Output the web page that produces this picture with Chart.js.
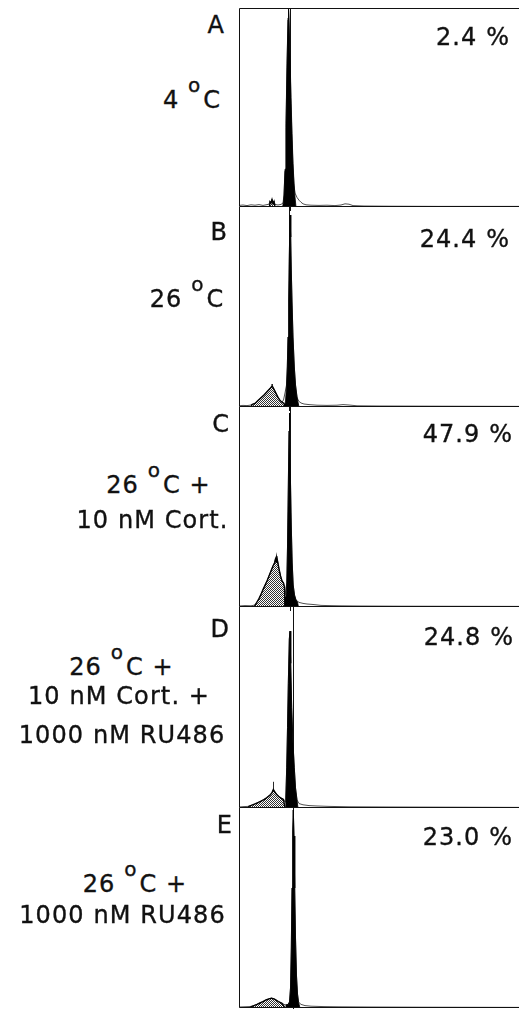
<!DOCTYPE html>
<html>
<head>
<meta charset="utf-8">
<script src="https://cdn.jsdelivr.net/npm/chart.js@4.4.1/dist/chart.umd.min.js"></script>
<style>
  body { margin: 0; background: #fff; }
  #figure { position: relative; width: 519px; height: 1009px; overflow: hidden; font-family: "DejaVu Sans", sans-serif; color: #111; }
  #figure canvas { position: absolute; left: 239px; }
  .label { position: absolute; white-space: pre; font-size: 24px; line-height: 24px; letter-spacing: 1.1px; -webkit-text-stroke: 0.35px #111; }
  .label .deg { font-size: 20px; line-height: 0; position: relative; top: -16px; letter-spacing: 3px; }
</style>
</head>
<body>
<div id="figure"></div>
<script>
const channelMax = 280;
const countMax = 100;

const panelLetters = ["A", "B", "C", "D", "E"];
const percentApoptotic = ["2.4 %", "24.4 %", "47.9 %", "24.8 %", "23.0 %"];
const conditions = [
  ["4 oC"],
  ["26 oC"],
  ["26 oC +", "10 nM Cort."],
  ["26 oC +", "10 nM Cort. +", "1000 nM RU486"],
  ["26 oC +", "1000 nM RU486"],
];
const g1Markers = [51.5, 50.5, 51.5, 54.5, 54.5];

// [channel, relative count]
const histA = [[0, 0.8], [4, 1.0], [8, 0.7], [12, 1.1], [16, 0.9], [20, 1.2], [24, 0.8], [27, 1.1], [30, 1.4], [31, 2.8], [32, 2.2], [33, 3.9], [34, 2.0], [35, 3.0], [36, 1.3], [39, 1.0], [42, 1.3], [44, 2], [45, 6], [46, 18], [47, 40], [48, 70], [49, 94], [49.5, 100], [50, 93], [51, 74], [52, 52], [53, 34], [54, 20], [55, 11], [56, 7], [58, 4.8], [60, 3.4], [62, 2.4], [64, 1.6], [67, 1.1], [72, 0.9], [80, 0.8], [88, 0.9], [96, 0.7], [102, 1.0], [106, 1.6], [110, 1.4], [114, 0.7], [125, 0.5], [150, 0.4], [200, 0.3], [280, 0.3]];
const apoA = [[30.5, 0], [31, 2.6], [32, 2.0], [33, 3.7], [34, 1.8], [35, 2.8], [36, 0]];
const g1A = [[43.5, 0], [44.5, 2.5], [45, 6], [46, 19], [47, 42], [48, 72], [49, 95], [49.5, 100], [50, 94], [51, 76], [52, 55], [53, 37], [54, 22], [55, 12], [56, 5], [57, 0]];

const histB = [[0, 0.6], [4, 0.8], [8, 0.7], [11, 0.9], [13, 1.2], [16, 1.8], [19, 3.2], [22, 4.6], [25, 6.0], [28, 7.6], [31, 9.2], [32.5, 10.2], [33, 11.5], [33.5, 10.4], [35, 8.8], [37, 6.8], [39, 4.8], [41, 3.3], [43, 2.4], [44.5, 3.5], [46, 7], [47.5, 11], [48.3, 20], [49, 35], [49.7, 53], [50.3, 75], [51, 96], [51.7, 85], [52.3, 68], [53, 53], [54, 35], [55.3, 20], [56.5, 11], [58, 5], [59.5, 3], [62, 2], [65, 1.5], [70, 1.2], [78, 0.9], [88, 0.8], [98, 0.9], [104, 1.2], [110, 1.0], [118, 0.6], [140, 0.5], [200, 0.4], [280, 0.3]];
const apoB = [[12, 0], [13, 1.2], [16, 1.8], [19, 3.2], [22, 4.6], [25, 6.0], [28, 7.6], [31, 9.2], [32.5, 10.2], [33.5, 10.2], [35, 8.8], [37, 6.8], [39, 4.8], [41, 3.3], [43, 2.4], [45, 1.8], [46, 0]];
const g1B = [[45.5, 0], [46.5, 3], [47.5, 10], [48.3, 20], [49, 35], [49.7, 53], [50.3, 75], [51, 96], [51.7, 85], [52.3, 68], [53, 53], [54, 35], [55.3, 20], [56.5, 11], [58, 5], [59, 2.5], [60, 0]];

const histC = [[0, 0.5], [6, 0.7], [12, 0.6], [15, 0.9], [16, 1.0], [18, 2.5], [20, 4.2], [22, 6.3], [24, 8.7], [26, 10.8], [28, 13], [30, 15.5], [32, 18], [34, 20.5], [35.5, 22], [36.5, 24], [37.2, 22.5], [37.8, 25.5], [38.5, 23], [40, 19], [41.5, 15.5], [43, 13], [44.5, 12], [46, 6], [47, 6], [47.8, 12], [48.5, 30], [49.3, 60], [50, 88], [50.3, 97], [50.8, 88], [51.5, 62], [52.3, 40], [53.2, 22], [54.2, 11], [55.5, 6], [57, 3.5], [60, 2.3], [64, 1.8], [68, 1.5], [73, 1.3], [77, 1.1], [82, 0.8], [90, 0.7], [100, 0.6], [120, 0.5], [160, 0.4], [280, 0.3]];
const apoC = [[15, 0], [16, 0.8], [18, 2.5], [20, 4.2], [22, 6.3], [24, 8.7], [26, 10.8], [28, 13], [30, 15.5], [32, 18], [34, 20.5], [35.5, 22], [36.5, 24], [37.2, 22.5], [37.8, 24.5], [38.5, 23], [40, 19], [41.5, 15.5], [43, 13], [44.5, 12], [45.5, 10], [46, 0]];
const g1C = [[45.6, 0], [46, 5], [47, 5.5], [47.8, 12], [48.5, 30], [49.3, 60], [50, 88], [50.3, 97], [50.8, 88], [51.5, 62], [52.3, 40], [53.2, 22], [54.2, 11], [55.5, 6], [57, 3.5], [58.5, 2.5], [59.5, 0]];

const histD = [[0, 0.5], [5, 0.7], [9, 0.8], [10, 0.9], [13, 1.4], [16, 2.0], [19, 2.7], [22, 3.4], [25, 4.2], [28, 5.2], [31, 6.4], [33, 7.6], [34, 9], [34.3, 13], [34.7, 9.4], [35.5, 8.2], [37.5, 6.8], [40, 5.6], [42.5, 4.8], [44.5, 4.2], [46, 3], [46.8, 5], [47.7, 20], [48.5, 40], [49.3, 62], [50.3, 84], [51, 88], [51.7, 72], [52.7, 50], [54, 32], [55.3, 20], [56.5, 10], [58, 4], [60, 2.2], [64, 1.6], [70, 1.2], [78, 1.0], [90, 0.8], [110, 0.6], [150, 0.5], [280, 0.3]];
const apoD = [[9, 0], [10, 0.8], [13, 1.4], [16, 2.0], [19, 2.7], [22, 3.4], [25, 4.2], [28, 5.2], [31, 6.4], [33, 7.6], [34.3, 9.2], [35.5, 8.2], [37.5, 6.8], [40, 5.6], [42.5, 4.8], [44.5, 4.2], [46, 0]];
const g1D = [[46, 0], [46.8, 5], [47.7, 20], [48.5, 40], [49.3, 62], [50.3, 84], [51, 88], [51.7, 72], [52.7, 50], [54, 32], [55.3, 20], [56.5, 10], [58, 4], [59, 0]];

const histE = [[0, 0.5], [5, 0.6], [10, 0.7], [12, 0.8], [15, 1.2], [18, 1.8], [21, 2.5], [24, 3.2], [27, 4.0], [30, 4.6], [32.5, 4.9], [35, 4.5], [37.5, 3.8], [40, 3.0], [43, 2.3], [46, 1.6], [49, 1.8], [50.5, 3], [51.5, 10], [52.3, 30], [53, 60], [53.7, 88], [54.3, 99], [55, 86], [55.7, 60], [56.5, 35], [57.5, 16], [58.5, 7], [59.5, 3], [62, 1.8], [66, 1.2], [72, 0.9], [85, 0.7], [100, 0.6], [130, 0.5], [180, 0.4], [280, 0.3]];
const apoE = [[11, 0], [12, 0.6], [15, 1.2], [18, 1.8], [21, 2.5], [24, 3.2], [27, 4.0], [30, 4.6], [32.5, 4.9], [35, 4.5], [37.5, 3.8], [40, 3.0], [43, 2.3], [46, 0]];
const g1E = [[46, 0], [47, 1.5], [49, 1.8], [50.5, 3], [51.5, 10], [52.3, 30], [53, 60], [53.7, 88], [54.3, 99], [55, 86], [55.7, 60], [56.5, 35], [57.5, 16], [58.5, 7], [59.5, 3], [61, 0]];

const histograms = [histA, histB, histC, histD, histE];
const apoptotic = [apoA, apoB, apoC, apoD, apoE];
const g1Peaks = [g1A, g1B, g1C, g1D, g1E];

// layout (page pixels)
const panelTops = [8, 207, 407, 607, 808];
const panelBottoms = [207, 407, 607, 808, 1008];
const tickRoom = 5;
const letterPos = [[224, 33], [227, 240], [229, 432], [229, 637], [232, 833]];
const percentPos = [[509, 45], [509, 247], [512, 442], [513, 645], [512, 845]];
const conditionPos = [
  [[192, 108]],
  [[187, 307]],
  [[158.5, 493], [152.5, 528]],
  [[121.5, 675], [119, 704], [122, 743]],
  [[135, 892], [122.5, 923]],
];
const baselineOffset = 20.3;
const letterSpacing = 1.1;

const figure = document.getElementById("figure");

const toPoints = (pairs) => pairs.map(([x, y]) => ({ x, y }));

const makeHatch = () => {
  const tile = document.createElement("canvas");
  tile.width = 2;
  tile.height = 2;
  const t = tile.getContext("2d");
  t.fillStyle = "#fff";
  t.fillRect(0, 0, 2, 2);
  t.fillStyle = "#333";
  t.fillRect(0, 0, 1, 1);
  t.fillRect(1, 1, 1, 1);
  return t.createPattern(tile, "repeat");
};
const hatch = makeHatch();

const addLabel = (html, css) => {
  const div = document.createElement("div");
  div.className = "label";
  div.innerHTML = html;
  Object.assign(div.style, css);
  figure.appendChild(div);
};

// superscript "o" as printed in the figure for degrees
const withDegree = (text) => text.replace(" oC", ' <span class="deg">o</span>C');

const framePlugin = (drawTop) => ({
  id: "frame",
  afterDatasetsDraw: (chart) => {
    const { ctx, chartArea } = chart;
    const x = Math.floor(chartArea.left) + 0.5;
    const top = Math.round(chartArea.top) + 0.5;
    const bottom = Math.round(chartArea.bottom) - 0.5;
    ctx.save();
    ctx.strokeStyle = "#111";
    ctx.lineWidth = 1;
    ctx.beginPath();
    ctx.moveTo(x, drawTop ? top : chartArea.top);
    ctx.lineTo(x, bottom);
    ctx.lineTo(chartArea.right, bottom);
    if (drawTop) {
      ctx.moveTo(x, top);
      ctx.lineTo(chartArea.right, top);
    }
    ctx.stroke();
    ctx.restore();
  },
});

panelLetters.forEach((letter, i) => {
  const height = panelBottoms[i] - panelTops[i] + tickRoom;
  const canvas = document.createElement("canvas");
  canvas.width = channelMax;
  canvas.height = height;
  canvas.style.top = panelTops[i] + "px";
  canvas.style.width = channelMax + "px";
  canvas.style.height = height + "px";
  figure.appendChild(canvas);

  new Chart(canvas, {
    type: "line",
    data: {
      datasets: [
        {
          label: "G1",
          data: toPoints(g1Peaks[i]),
          fill: "origin",
          backgroundColor: "#000",
          borderColor: "#000",
          borderWidth: 0.8,
          pointRadius: 0,
          tension: 0,
          order: 0,
        },
        {
          label: "sub-G1",
          data: toPoints(apoptotic[i]),
          fill: "origin",
          backgroundColor: hatch,
          borderColor: "#000",
          borderWidth: 1.4,
          pointRadius: 0,
          tension: 0,
          order: 1,
        },
        {
          label: "histogram",
          data: toPoints(histograms[i]),
          fill: false,
          borderColor: "#222",
          borderWidth: 0.8,
          pointRadius: 0,
          tension: 0,
          order: 2,
        },
        {
          label: "marker",
          data: toPoints([[g1Markers[i], -2], [g1Markers[i], countMax]]),
          fill: false,
          borderColor: "#111",
          borderWidth: 1,
          pointRadius: 0,
          clip: false,
          order: 3,
        },
      ],
    },
    options: {
      responsive: false,
      animation: false,
      events: [],
      layout: { padding: { left: 0, right: 0, top: 0, bottom: tickRoom } },
      plugins: { legend: { display: false }, tooltip: { enabled: false } },
      scales: {
        x: { type: "linear", min: 0, max: channelMax, display: false },
        y: { min: 0, max: countMax, display: false },
      },
    },
    plugins: [framePlugin(i === 0)],
  });

  addLabel(letter, {
    right: 519 - letterPos[i][0] - letterSpacing + "px",
    top: letterPos[i][1] - baselineOffset + "px",
  });
  addLabel(percentApoptotic[i], {
    right: 519 - percentPos[i][0] - letterSpacing + "px",
    top: percentPos[i][1] - baselineOffset + "px",
  });
  conditions[i].forEach((line, j) => {
    const [cx, baseline] = conditionPos[i][j];
    addLabel(withDegree(line), {
      left: cx + "px",
      top: baseline - baselineOffset + "px",
      transform: "translateX(-50%)",
    });
  });
});
</script>
</body>
</html>
